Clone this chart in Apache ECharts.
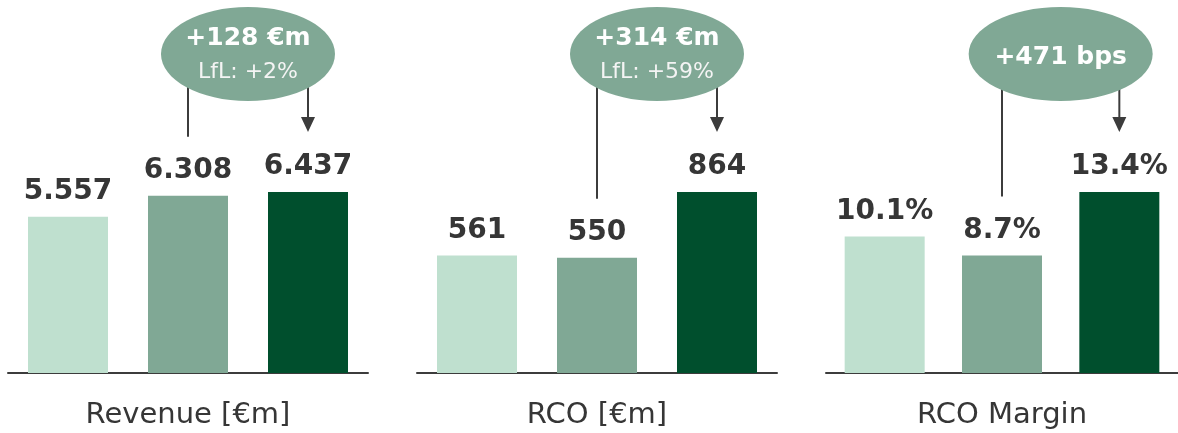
<!DOCTYPE html>
<html>
<head>
<meta charset="utf-8">
<script src="https://cdn.jsdelivr.net/npm/echarts@6/dist/echarts.min.js"></script>
<style>html,body{margin:0;padding:0;background:#fff}#c{width:1178px;height:433px}</style>
</head>
<body>
<div id="c"></div>
<script>
const categories = ['A', 'B', 'C'];
const panelTitles = ['Revenue [€m]', 'RCO [€m]', 'RCO Margin'];
const revenue = [5557, 6308, 6437];
const rco = [561, 550, 864];
const margin = [10.1, 8.7, 13.4];
const revenueLabels = ['5.557', '6.308', '6.437'];
const rcoLabels = ['561', '550', '864'];
const marginLabels = ['10.1%', '8.7%', '13.4%'];
const bubbleMain = ['+128 €m', '+314 €m', '+471 bps'];
const bubbleSub = ['LfL: +2%', 'LfL: +59%', ''];

const seriesValues = [revenue, rco, margin];
const seriesLabels = [revenueLabels, rcoLabels, marginLabels];
const barColors = ['#bfe0cf', '#80a895', '#004f2d'];
const textColor = '#363636';
const lineColor = '#3c3c3c';
const FONT = 'DejaVu Sans';

const lefts = [8, 417, 826];
const grids = lefts.map(l => ({ left: l, width: 360, top: 192, bottom: 60 }));
const xAxes = grids.map((g, i) => ({
  gridIndex: i, type: 'category', data: categories,
  axisLine: { lineStyle: { color: lineColor, width: 2 } },
  axisTick: { show: false }, axisLabel: { show: false },
  name: panelTitles[i], nameLocation: 'middle', nameGap: 28,
  nameTextStyle: { fontFamily: FONT, fontSize: 29, color: textColor }
}));
const yAxes = grids.map((g, i) => ({
  gridIndex: i, type: 'value', min: 0, max: 'dataMax', show: false, splitLine: { show: false }
}));
const series = seriesValues.map((vals, i) => ({
  type: 'bar', xAxisIndex: i, yAxisIndex: i, barWidth: 80,
  data: vals.map((v, j) => ({ value: v, itemStyle: { color: barColors[j] } })),
  label: {
    show: true, position: 'top', distance: 11,
    formatter: p => seriesLabels[i][p.dataIndex],
    fontFamily: FONT, fontWeight: 'bold', fontSize: 28, color: textColor
  },
  silent: true, animation: false
}));

const chart = echarts.init(document.getElementById('c'), null, { renderer: 'canvas' });
chart.setOption({ animation: false, grid: grids, xAxis: xAxes, yAxis: yAxes, series: series });

const graphics = [];
seriesValues.forEach((vals, i) => {
  const p2 = chart.convertToPixel({ gridIndex: i }, [1, vals[1]]);
  const p3 = chart.convertToPixel({ gridIndex: i }, [2, vals[2]]);
  const cx = (p2[0] + p3[0]) / 2;
  const cy = 54;
  const rx = i === 2 ? 92 : 87;
  const ry = 47;
  graphics.push({ type: 'line', z: 10, shape: { x1: p2[0], y1: cy, x2: p2[0], y2: p2[1] - 59 },
    style: { stroke: lineColor, lineWidth: 2 } });
  const tip = p3[1] - 60;
  graphics.push({ type: 'line', z: 10, shape: { x1: p3[0], y1: cy, x2: p3[0], y2: tip - 12 },
    style: { stroke: lineColor, lineWidth: 2 } });
  graphics.push({ type: 'polygon', z: 10, shape: { points: [[p3[0] - 7, tip - 15], [p3[0] + 7, tip - 15], [p3[0], tip]] },
    style: { fill: lineColor } });
  graphics.push({ type: 'ellipse', z: 20, shape: { cx: cx, cy: cy, rx: rx, ry: ry }, style: { fill: '#80a895' } });
  if (bubbleSub[i]) {
    graphics.push({ type: 'text', z: 30, x: cx, y: 38, style: { text: bubbleMain[i], fill: '#ffffff',
      font: 'bold 25px "' + FONT + '"', textAlign: 'center', textVerticalAlign: 'middle' } });
    graphics.push({ type: 'text', z: 30, x: cx, y: 72, style: { text: bubbleSub[i], fill: '#f4f4f4',
      font: '22px "' + FONT + '"', textAlign: 'center', textVerticalAlign: 'middle' } });
  } else {
    graphics.push({ type: 'text', z: 30, x: cx, y: 57, style: { text: bubbleMain[i], fill: '#ffffff',
      font: 'bold 25px "' + FONT + '"', textAlign: 'center', textVerticalAlign: 'middle' } });
  }
});
chart.setOption({ graphic: graphics });
</script>
</body>
</html>
